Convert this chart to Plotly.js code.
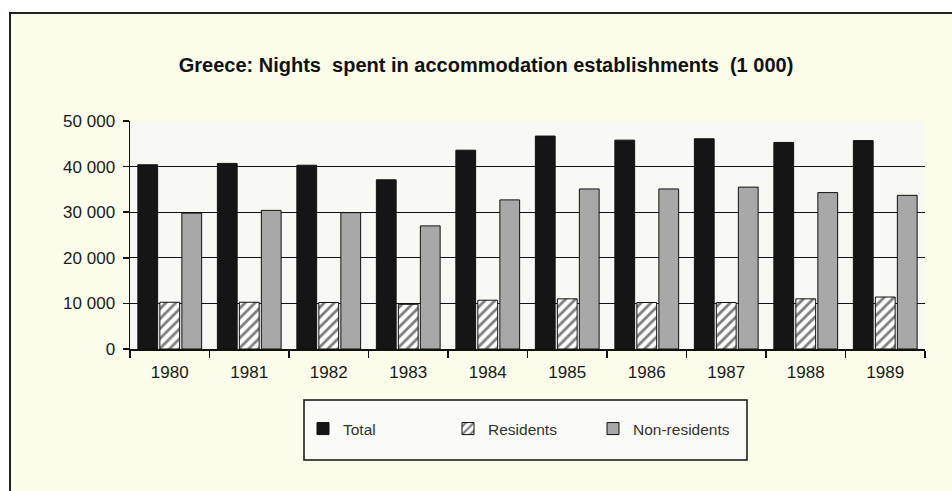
<!DOCTYPE html>
<html>
<head>
<meta charset="utf-8">
<script src="https://cdn.plot.ly/plotly-3.0.1.min.js"></script>
<style>
  html, body { margin: 0; padding: 0; background: #ffffff; }
  #wrap { position: relative; width: 952px; height: 491px; overflow: hidden; background: #ffffff; }
  #frame { position: absolute; left: 9px; top: 12px; width: 960px; height: 490px;
           border-left: 2px solid #222; border-top: 2px solid #222; background: #fbfcea; }
  #chart { position: absolute; left: 0; top: 0; width: 952px; height: 491px; }
</style>
</head>
<body>
<div id="wrap">
  <div id="frame"></div>
  <div id="chart"></div>
</div>
<script>
const years = ['1980','1981','1982','1983','1984','1985','1986','1987','1988','1989'];
const total = [40400, 40700, 40300, 37100, 43600, 46700, 45800, 46100, 45300, 45700];
const residents = [10250, 10250, 10200, 9800, 10700, 11000, 10200, 10200, 11000, 11400];
const nonResidents = [29800, 30400, 29900, 27000, 32700, 35100, 35100, 35500, 34300, 33700];
const yTicks = [0, 10000, 20000, 30000, 40000, 50000];
const yTickText = ['0', '10 000', '20 000', '30 000', '40 000', '50 000'];

const outline = {color: '#111', width: 1};
const traces = [
  {type: 'bar', name: 'Total', x: years, y: total,
   marker: {color: '#151515', line: outline}},
  {type: 'bar', name: 'Residents', x: years, y: residents,
   marker: {color: '#ffffff', line: outline,
            pattern: {shape: '/', fgcolor: '#000', bgcolor: '#ffffff', size: 7, solidity: 0.4, fillmode: 'overlay'}}},
  {type: 'bar', name: 'Non-residents', x: years, y: nonResidents,
   marker: {color: '#a8a8a8', line: outline}}
];

const L = 130, T = 121, PW = 795, PH = 228;
function px(x){ return (x - L) / PW; }
function py(y){ return (T + PH - y) / PH; }

const layout = {
  width: 952, height: 491,
  margin: {l: 130, r: 27, t: 121, b: 142, pad: 0},
  paper_bgcolor: 'rgba(0,0,0,0)',
  plot_bgcolor: '#f8f8f4',
  font: {family: '"Liberation Sans", Arial, sans-serif', color: '#1a1a1a', size: 15},
  title: {
    text: 'Greece: Nights\u00a0 spent in accommodation establishments\u00a0 (1 000)',
    font: {family: '"Liberation Sans", Arial, sans-serif', size: 20, color: '#111', weight: 'bold'},
    x: 486 / 952, xref: 'container', xanchor: 'center',
    y: 1 - 65 / 491, yref: 'container', yanchor: 'middle'
  },
  barmode: 'group',
  bargap: 0.17,
  bargroupgap: 0.1,
  showlegend: true,
  xaxis: {
    type: 'category',
    showgrid: false,
    showline: true, linecolor: '#111', linewidth: 1.5,
    ticks: 'outside', tickson: 'boundaries', ticklen: 7, tickcolor: '#111', tickwidth: 1.5,
    tickfont: {size: 17, color: '#1a1a1a'},
    ticklabelstandoff: 7,
    fixedrange: true
  },
  yaxis: {
    range: [0, 50000],
    tickvals: yTicks, ticktext: yTickText,
    showgrid: true, gridcolor: '#111', gridwidth: 1,
    showline: true, linecolor: '#111', linewidth: 1.5,
    zeroline: false,
    ticks: 'outside', ticklen: 6, tickcolor: '#111', tickwidth: 1.5,
    tickfont: {size: 17, color: '#1a1a1a'},
    ticklabelstandoff: 4,
    fixedrange: true
  },
  legend: {
    orientation: 'h',
    x: px(303), xanchor: 'left',
    y: py(412), yanchor: 'top',
    bgcolor: 'rgba(0,0,0,0)',
    borderwidth: 0,
    entrywidth: 100, entrywidthmode: 'pixels',
    font: {size: 15.5, color: '#333'},
    traceorder: 'normal'
  },
  shapes: [
    {type: 'rect', xref: 'paper', yref: 'paper',
     x0: px(304), x1: px(747), y0: py(460), y1: py(400),
     line: {color: '#111', width: 1.5}, fillcolor: '#fafaf6', layer: 'below'}
  ]
};

Plotly.newPlot('chart', traces, layout, {staticPlot: true, displayModeBar: false});
</script>
</body>
</html>
